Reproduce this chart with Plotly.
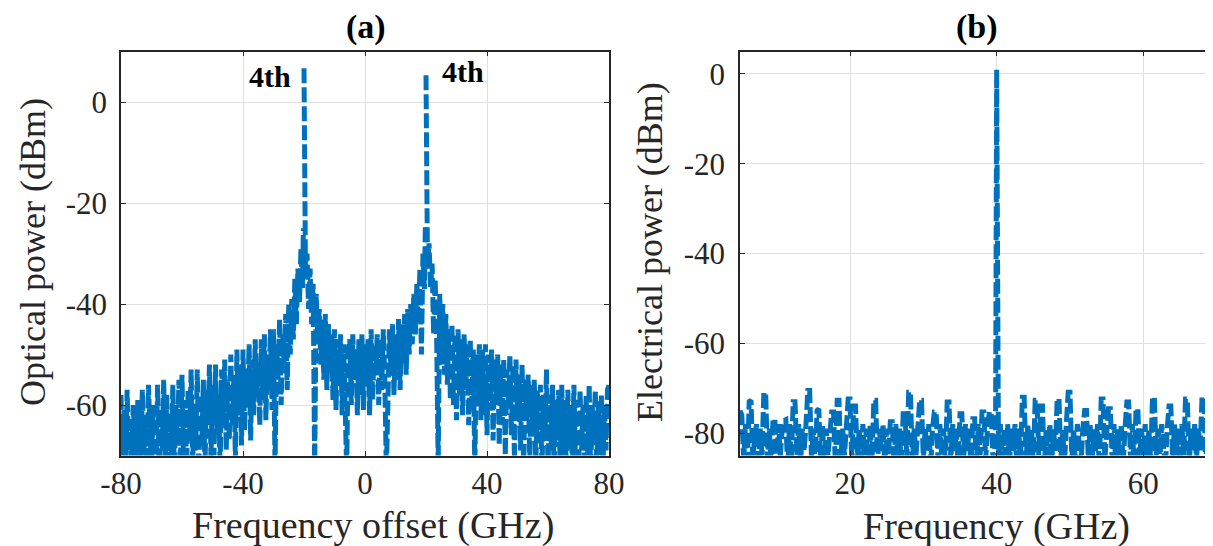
import plotly.graph_objects as go

GAP = None  # pen-up marker: the dashed stroke restarts at each optical peak

# ---------------- Panel (a): optical spectrum ----------------
freq_offset_ghz = [
    -80, -79.5, -79, -78.5, -78, -77.5, -77, -76.5, -76, -75.5,
    -75, -74.5, -74, -73.5, -73, -72.5, -72, -71.5, -71, -70.5,
    -70, -69.5, -69, -68.5, -68, -67.5, -67, -66.5, -66, -65.5,
    -65, -64.5, -64, -63.5, -63, -62.5, -62, -61.5, -61, -60.5,
    -60, -59.5, -59, -58.5, -58, -57.5, -57, -56.5, -56, -55.5,
    -55, -54.5, -54, -53.5, -53, -52.5, -52, -51.5, -51, -50.5,
    -50, -49.5, -49, -48.5, -48, -47.5, -47, -46.5, -46, -45.5,
    -45, -44.5, -44, -43.5, -43, -42.5, -42, -41.5, -41, -40.5,
    -40, -39.5, -39, -38.5, -38, -37.5, -37, -36.5, -36, -35.5,
    -35, -34.5, -34, -33.5, -33, -32.5, -32, -31.5, -31, -30.5,
    -30, -29.5, -29, -28.5, -28, -27.5, -27, -26.5, -26, -25.5,
    -25, -24.5, -24, -23.5, -23,
    -22.5, -22, -21.5, -21, -20.5, -20.2, -20.1, -20, -19.8, -19.5,
    -19, -18.5, -18, -17.5, -17, -16.5, -16, -15.5,
    -15, -14.5, -14, -13.5, -13, -12.5, -12, -11.5, -11, -10.5,
    -10, -9.5, -9, -8.5, -8, -7.5, -7, -6.5, -6, -5.5,
    -5, -4.5, -4, -3.5, -3, -2.5, -2, -1.5, -1, -0.5,
    0, 0.5, 1, 1.5, 2, 2.5, 3, 3.5, 4, 4.5,
    5, 5.5, 6, 6.5, 7, 7.5, 8, 8.5, 9, 9.5,
    10, 10.5, 11, 11.5, 12, 12.5, 13, 13.5, 14, 14.5,
    15, 15.5, 16, 16.5,
    17, 17.5, 18, 18.5, 19, 19.5, 19.8, 19.9, 20, 20.2,
    20.5, 21, 21.5, 22, 22.5, 23, 23.5,
    24, 24.5, 25, 25.5, 26, 26.5, 27, 27.5, 28, 28.5,
    29, 29.5, 30, 30.5, 31, 31.5, 32, 32.5, 33, 33.5,
    34, 34.5, 35, 35.5, 36, 36.5, 37, 37.5, 38, 38.5,
    39, 39.5, 40, 40.5, 41, 41.5, 42, 42.5, 43, 43.5,
    44, 44.5, 45, 45.5, 46, 46.5, 47, 47.5, 48, 48.5,
    49, 49.5, 50, 50.5, 51, 51.5, 52, 52.5, 53, 53.5,
    54, 54.5, 55, 55.5, 56, 56.5, 57, 57.5, 58, 58.5,
    59, 59.5, 60, 60.5, 61, 61.5, 62, 62.5, 63, 63.5,
    64, 64.5, 65, 65.5, 66, 66.5, 67, 67.5, 68, 68.5,
    69, 69.5, 70, 70.5, 71, 71.5, 72, 72.5, 73, 73.5,
    74, 74.5, 75, 75.5, 76, 76.5, 77, 77.5, 78, 78.5,
    79, 79.5, 80,
]
optical_power_dbm = [
    -58, -72, -61, -74, -57, -69, -63, -73, -60, -71,
    -74, -59, -66, -72, -57, -70, -62, -74, -56, -68,
    -73, -60, -65, -72, -56, -74, -61, -69, -55, -72,
    -58, -73, -62, -70, -56, -74, -60, -67, -55, -72,
    -54, -71, -59, -74, -57, -66, -53, -72, -60, -69,
    -53, -73, -58, -68, -55, -74, -57, -64, -52, -71,
    -56, -70, -52, -66, -58, -73, -53, -63, -51, -69,
    -55, -67, -50, -64, -54, -71, -49, -62, -52, -68,
    -49, -65, -53, -60, -48, -67, -51, -62, -47, -58,
    -52, -64, -47, -59, -46, -63, -50, -57, -45, -61,
    -45, -73, -48, -55, -43, -60, -46, -52, -42, -57,
    -40, -50, -39, -47, -35,
    -44, -33, -40, -29, -37, -25, GAP, 6.7, -26, -35,
    -30, -41, -33, -44, -36, -73, -38, -47,
    -41, -52, -43, -55, -42, -57, -44, -53, -46, -59,
    -45, -61, -47, -56, -46, -62, -48, -57, -73, -49,
    -47, -60, -46, -55, -49, -62, -47, -58, -46, -61,
    -48, -56, -47, -62, -45, -59, -48, -54, -46, -60,
    -47, -57, -45, -55, -73, -60, -45, -53, -44, -58,
    -46, -55, -43, -57, -44, -52, -42, -54, -41, -50,
    -40, -48, -38, -46,
    -36, -44, -33, -50, -30, -37, -24, GAP, 5.3, -23,
    -33, -28, -37, -32, -46, -35, -47,
    -72, -38, -50, -40, -54, -42, -56, -45, -59, -44,
    -60, -46, -63, -45, -58, -47, -62, -46, -57, -48,
    -64, -47, -60, -49, -73, -50, -58, -48, -63, -49,
    -62, -48, -66, -50, -61, -49, -67, -51, -59, -50,
    -68, -52, -64, -51, -70, -53, -60, -50, -66, -52,
    -71, -51, -62, -54, -69, -52, -73, -55, -63, -54,
    -72, -56, -65, -55, -73, -57, -67, -56, -74, -58,
    -66, -53, -73, -58, -69, -56, -74, -59, -67, -57,
    -73, -56, -70, -59, -74, -57, -68, -60, -73, -56,
    -71, -59, -74, -57, -69, -60, -73, -58, -70, -56,
    -74, -60, -67, -57, -73, -59, -70, -58, -74, -60,
    -69, -57, -56,
]

# ---------------- Panel (b): electrical spectrum ----------------
frequency_ghz = [
    5.0, 5.25, 5.5, 5.75, 6.0, 6.25, 6.5, 6.75,
    7.0, 7.25, 7.5, 7.75, 8.0, 8.25, 8.5, 8.75,
    9.0, 9.25, 9.5, 9.75, 10.0, 10.25, 10.5, 10.75,
    11.0, 11.25, 11.5, 11.75, 12.0, 12.25, 12.5, 12.75,
    13.0, 13.25, 13.5, 13.75, 14.0, 14.25, 14.5, 14.75,
    15.0, 15.25, 15.5, 15.75, 16.0, 16.25, 16.5, 16.75,
    17.0, 17.25, 17.5, 17.75, 18.0, 18.25, 18.5, 18.75,
    19.0, 19.25, 19.5, 19.75, 20.0, 20.25, 20.5, 20.75,
    21.0, 21.25, 21.5, 21.75, 22.0, 22.25, 22.5, 22.75,
    23.0, 23.25, 23.5, 23.75, 24.0, 24.25, 24.5, 24.75,
    25.0, 25.25, 25.5, 25.75, 26.0, 26.25, 26.5, 26.75,
    27.0, 27.25, 27.5, 27.75, 28.0, 28.25, 28.5, 28.75,
    29.0, 29.25, 29.5, 29.75, 30.0, 30.25, 30.5, 30.75,
    31.0, 31.25, 31.5, 31.75, 32.0, 32.25, 32.5, 32.75,
    33.0, 33.25, 33.5, 33.75, 34.0, 34.25, 34.5, 34.75,
    35.0, 35.25, 35.5, 35.75, 36.0, 36.25, 36.5, 36.75,
    37.0, 37.25, 37.5, 37.75, 38.0, 38.25, 38.5, 38.75,
    39.0, 39.25, 39.5, 39.75, 39.85, 40.0, 40.15, 40.25, 40.5, 40.75,
    41.0, 41.25, 41.5, 41.75, 42.0, 42.25, 42.5, 42.75,
    43.0, 43.25, 43.5, 43.75, 44.0, 44.25, 44.5, 44.75,
    45.0, 45.25, 45.5, 45.75, 46.0, 46.25, 46.5, 46.75,
    47.0, 47.25, 47.5, 47.75, 48.0, 48.25, 48.5, 48.75,
    49.0, 49.25, 49.5, 49.75, 50.0, 50.25, 50.5, 50.75,
    51.0, 51.25, 51.5, 51.75, 52.0, 52.25, 52.5, 52.75,
    53.0, 53.25, 53.5, 53.75, 54.0, 54.25, 54.5, 54.75,
    55.0, 55.25, 55.5, 55.75, 56.0, 56.25, 56.5, 56.75,
    57.0, 57.25, 57.5, 57.75, 58.0, 58.25, 58.5, 58.75,
    59.0, 59.25, 59.5, 59.75, 60.0, 60.25, 60.5, 60.75,
    61.0, 61.25, 61.5, 61.75, 62.0, 62.25, 62.5, 62.75,
    63.0, 63.25, 63.5, 63.75, 64.0, 64.25, 64.5, 64.75,
    65.0, 65.25, 65.5, 65.75, 66.0, 66.25, 66.5, 66.75,
    67.0, 67.25, 67.5, 67.75, 68.0, 68.25, 68.5, 68.75,
    69.0, 69.25, 69.5, 69.75,
]
electrical_power_dbm = [
    -75, -76, -86, -78, -88, -73, -72.7, -86,
    -81, -78, -88, -79, -85, -71, -71, -86,
    -79, -88, -77, -76.8, -87, -78, -85, -79,
    -77.2, -77, -88, -78, -86, -73, -73, -85,
    -78, -87, -79, -84, -78, -70.5, -70.5, -86,
    -79, -87, -75, -74.6, -86, -78, -88, -79,
    -85, -78, -75.3, -75.3, -87, -72.7, -72.7, -86,
    -79, -85, -78, -72.4, -72.4, -87, -74, -74,
    -86, -79, -88, -78, -85, -79, -88, -78,
    -86, -72.7, -72.7, -87, -79, -84, -78, -88,
    -79, -85, -77.5, -77.5, -87, -78, -86, -79,
    -88, -75.7, -75.7, -86, -70.9, -70.9, -87, -79,
    -85, -78, -72.7, -72.7, -86, -79, -84, -78,
    -88, -79, -75.3, -75.3, -86, -78, -85, -79,
    -87, -73.1, -73.1, -86, -78, -84, -79, -88,
    -75.7, -75.7, -86, -78, -84, -79, -88, -76.8,
    -76.8, -87, -78, -85, -75.3, -75.3, -86, -79,
    -75.3, -75.3, -86, -84, -80, 1.0, -79, -86, -78, -88,
    -79, -85, -78, -87, -79, -84, -78, -88,
    -79, -86, -72, -72, -87, -78, -85, -79,
    -86, -72.7, -72.7, -85, -74, -74, -88, -79,
    -85, -78, -87, -79, -84, -72.4, -72.4, -86,
    -79, -87, -78, -70.9, -70.9, -86, -79, -88,
    -78, -85, -87, -79, -75, -75, -86, -78,
    -87, -79, -84, -78, -88, -72.4, -72.4, -86,
    -79, -74.6, -74.6, -86, -78, -88, -79, -85,
    -78, -87, -79, -73.1, -73.1, -86, -78, -88,
    -74.6, -74.6, -86, -79, -85, -78, -88, -79,
    -86, -72, -72, -85, -79, -87, -78, -84,
    -88, -79, -74, -74, -86, -78, -85, -79,
    -87, -78, -85, -72.4, -72.4, -88, -79, -84,
    -78, -86, -79, -84, -72, -72, -87, -79,
    -74.6, -74.6, -86, -79,
]

a_xticks = [-80, -40, 0, 40, 80]
a_yticks = [0, -20, -40, -60]
b_xticks = [20, 40, 60]
b_yticks = [0, -20, -40, -60, -80]

LINE_COLOR = "#0072BD"
AXIS_COLOR = "#262626"
GRID_COLOR = "#E0E0E0"
FONT = "Liberation Serif"

# The page body has an 8 px margin, so the figure is placed 8 px in from the window corner.
OFF = 8
W, H = 1213 - OFF, 546 - OFF


def fx(px):  # window pixel -> paper fraction
    return (px - OFF) / W


def fy(py):
    return 1 - (py - OFF) / H


fig = go.Figure()
fig.add_trace(go.Scatter(
    x=freq_offset_ghz, y=optical_power_dbm, mode="lines", connectgaps=False,
    line=dict(color=LINE_COLOR, width=5, dash="15px,4px"),
    xaxis="x", yaxis="y", showlegend=False,
))
fig.add_trace(go.Scatter(
    x=frequency_ghz, y=electrical_power_dbm, mode="lines",
    line=dict(color=LINE_COLOR, width=5, dash="15px,4px"),
    xaxis="x2", yaxis="y2", showlegend=False,
))

ydom = [fy(455.5), fy(51.5)]


def axis(**kw):
    base = dict(
        showline=True, linecolor=AXIS_COLOR, linewidth=1.5,
        showgrid=True, gridcolor=GRID_COLOR, gridwidth=1,
        ticks="inside", ticklen=5, tickcolor=AXIS_COLOR,
        zeroline=False, automargin=False,
        tickfont=dict(family=FONT, size=31, color=AXIS_COLOR),
    )
    base.update(kw)
    return base


def labels(vals):
    return [str(v) for v in vals]


fig.update_layout(
    template="none",
    width=W, height=H,
    margin=dict(l=0, r=0, t=0, b=0, pad=0),
    paper_bgcolor="white", plot_bgcolor="white",
    xaxis=axis(domain=[fx(121), fx(609)], range=[-80, 80], tickvals=a_xticks,
               ticktext=labels(a_xticks), mirror="ticks", anchor="y"),
    yaxis=axis(domain=ydom, range=[-70, 10], tickvals=a_yticks,
               ticktext=labels(a_yticks), mirror="ticks", anchor="x",
               ticklabelstandoff=6),
    xaxis2=axis(domain=[fx(740), 1.0], range=[5, 69.5], tickvals=b_xticks,
                ticktext=labels(b_xticks), mirror="ticks", anchor="y2"),
    yaxis2=axis(domain=ydom, range=[-85, 5], tickvals=b_yticks,
                ticktext=labels(b_yticks), mirror=False, anchor="x2",
                ticklabelstandoff=7),
)

paper_texts = [
    ("<b>(a)</b>", 366, 27, 34, 0, "black"),
    ("<b>(b)</b>", 977, 27, 34, 0, "black"),
    ("Frequency offset (GHz)", 373, 525, 38, 0, AXIS_COLOR),
    ("Frequency (GHz)", 996, 526, 38, 0, AXIS_COLOR),
    ("Optical power (dBm)", 33, 252, 36, -90, AXIS_COLOR),
    ("Electrical power (dBm)", 650, 252, 36, -90, AXIS_COLOR),
]
for text, px, py, size, angle, color in paper_texts:
    fig.add_annotation(text=text, x=fx(px), y=fy(py), xref="paper", yref="paper",
                       xanchor="center", yanchor="middle",
                       showarrow=False, textangle=angle,
                       font=dict(family=FONT, size=size, color=color))

for xd, yd in [(-31, 5), (32, 6)]:
    fig.add_annotation(text="<b>4th</b>", x=xd, y=yd, xref="x", yref="y", showarrow=False,
                       xanchor="center", yanchor="middle",
                       font=dict(family=FONT, size=30, color="black"))

fig.write_html("out.html")
